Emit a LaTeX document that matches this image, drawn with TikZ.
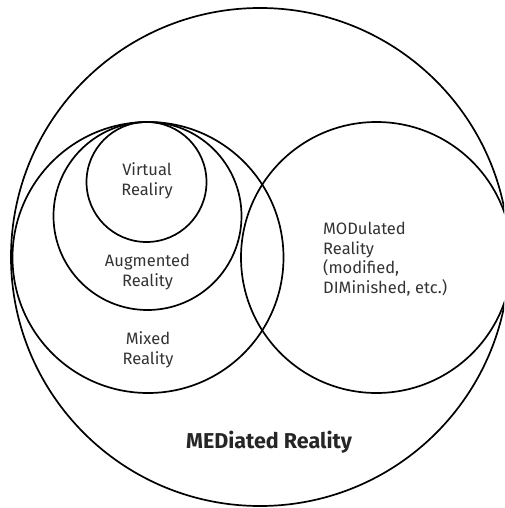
\documentclass[tikz,border=0pt]{standalone}
\usepackage{fontspec}
\setmainfont{Fira Sans}
\begin{document}
\begin{tikzpicture}[x={(1pt,0)}, y={(0,-1pt)},
  ring/.style={draw=black, line width=1.7pt, circle, inner sep=0pt, outer sep=0pt},
  label/.style={text=black!80, font=\fontsize{16.5}{19.5}\selectfont, anchor=base, inner sep=0pt, align=center},
  title/.style={text=black!85, font=\fontsize{21.5}{25}\selectfont\bfseries, anchor=base, inner sep=0pt}]
  \useasboundingbox (0,0) rectangle (504,508);
  \clip (0,0) rectangle (504,508);
  % nested reality circles
  \node[ring, minimum size=498pt] (mediated) at (260,257) {};
  \node[ring, minimum size=271pt] (mixed) at (148,257.5) {};
  \node[ring, minimum size=188pt] (augmented) at (147.5,216) {};
  \node[ring, minimum size=120pt] (virtual) at (146.5,182) {};
  \node[ring, minimum size=271pt] (modulated) at (376.5,257.5) {};
  % labels (anchored on the baseline of their last line)
  \node[label] (tvirtual) at (147,195) {Virtual\\Realiry};
  \node[label] (taugmented) at (147.5,286) {Augmented\\Reality};
  \node[label] (tmixed) at (148,364) {Mixed\\Reality};
  \node[label, align=left, anchor=base west] (tmodulated) at (323,293) {MODulated\\Reality\\(modified,\\DIMinished, etc.)};
  \node[title] (tmediated) at (269,448) {MEDiated Reality};
\end{tikzpicture}
\end{document}
